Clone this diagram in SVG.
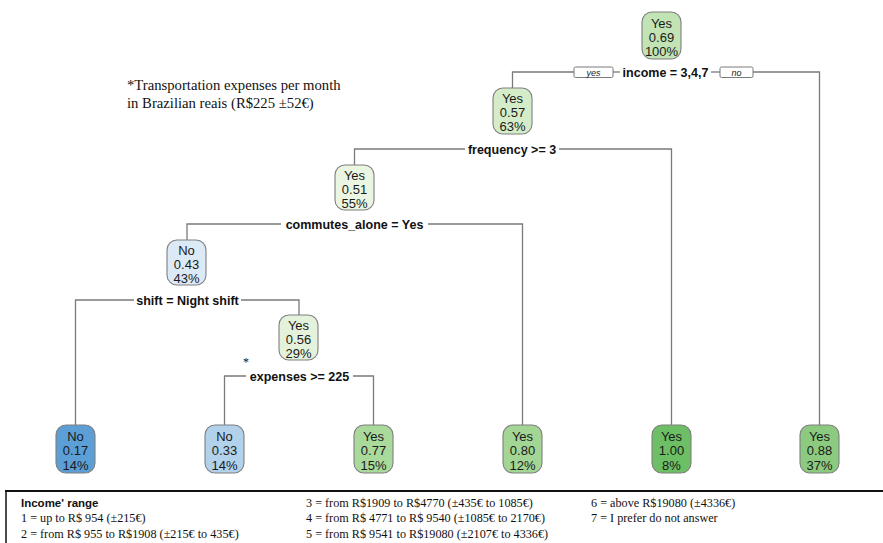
<svg xmlns="http://www.w3.org/2000/svg" width="883" height="543" viewBox="0 0 883 543">
<style>
.bg{fill:#ffffff}
.box{stroke:#7f7f7f;stroke-width:1.1}
.nt{font-family:"Liberation Sans",Arial,sans-serif;font-size:13px;fill:#1a1a1a;text-anchor:middle}
.sp{font-family:"Liberation Sans",Arial,sans-serif;font-size:12.5px;font-weight:bold;fill:#111;text-anchor:middle}
.ln{stroke:#7a7a7a;stroke-width:1.3;fill:none}
.lab{fill:#fff;stroke:#7a7a7a;stroke-width:1}
.labt{font-family:"Liberation Sans",Arial,sans-serif;font-size:9px;font-style:italic;fill:#222;text-anchor:middle}
.ser{font-family:"Liberation Serif","Times New Roman",serif;fill:#111}
.leg{font-family:"Liberation Serif","Times New Roman",serif;font-size:12.2px;fill:#111}
</style>
<rect class="bg" x="0" y="0" width="883" height="543"/>

<g id="connectors">
  <path class="ln" d="M512.5,88 V72 H574"/>
  <path class="ln" d="M613,72 H620"/>
  <path class="ln" d="M711,72 H720"/>
  <path class="ln" d="M753,72 H819.5 V425"/>
  <path class="ln" d="M354.5,165 V149 H465"/>
  <path class="ln" d="M559,149 H671.5 V425"/>
  <path class="ln" d="M187,240 V224 H281"/>
  <path class="ln" d="M428,224 H522.5 V425"/>
  <path class="ln" d="M75.5,425 V300 H134"/>
  <path class="ln" d="M241,300 H299 V315"/>
  <path class="ln" d="M224.5,425 V376 H246"/>
  <path class="ln" d="M353,376 H373.5 V425"/>
</g>

<g id="split-labels">
  <g id="lab-yes"><rect class="lab" x="574" y="67" width="39" height="10.5" rx="1.5"/><text class="labt" x="593.5" y="75.5">yes</text></g>
  <text class="sp" x="665.5" y="76.5">income = 3,4,7</text>
  <g id="lab-no"><rect class="lab" x="720" y="67" width="33" height="10.5" rx="1.5"/><text class="labt" x="736.5" y="75.5">no</text></g>
  <text class="sp" x="512" y="153.5">frequency &gt;= 3</text>
  <text class="sp" x="354.5" y="228.5">commutes_alone = Yes</text>
  <text class="sp" x="187.5" y="304.5">shift = Night shift</text>
  <text class="sp" x="299.5" y="380.5">expenses &gt;= 225</text>
  <text class="ser" x="243" y="366" font-size="12">*</text>
</g>

<g id="node-root">
  <rect class="box" x="642" y="12" width="39" height="47" rx="10" fill="#c2e3b4"/>
  <text class="nt" x="661.5" y="27.5">Yes</text><text class="nt" x="661.5" y="41.5">0.69</text><text class="nt" x="661.5" y="56">100%</text>
</g>
<g id="node-2">
  <rect class="box" x="493" y="88" width="39" height="46" rx="10" fill="#d5ecc9"/>
  <text class="nt" x="512.5" y="102.5">Yes</text><text class="nt" x="512.5" y="117">0.57</text><text class="nt" x="512.5" y="131">63%</text>
</g>
<g id="node-3">
  <rect class="box" x="335" y="165" width="39" height="45" rx="10" fill="#eaf5e2"/>
  <text class="nt" x="354.5" y="179.5">Yes</text><text class="nt" x="354.5" y="193.5">0.51</text><text class="nt" x="354.5" y="207.5">55%</text>
</g>
<g id="node-4">
  <rect class="box" x="167" y="240" width="39" height="45" rx="10" fill="#dce9f7"/>
  <text class="nt" x="186.5" y="254.5">No</text><text class="nt" x="186.5" y="268.5">0.43</text><text class="nt" x="186.5" y="282.5">43%</text>
</g>
<g id="node-5">
  <rect class="box" x="279" y="315" width="39" height="45" rx="10" fill="#e4f2dc"/>
  <text class="nt" x="298.5" y="329.5">Yes</text><text class="nt" x="298.5" y="343.5">0.56</text><text class="nt" x="298.5" y="357.5">29%</text>
</g>
<g id="leaf-1">
  <rect class="box" x="56" y="425" width="39" height="48" rx="10" fill="#5b9fd6"/>
  <text class="nt" x="75.5" y="440.5">No</text><text class="nt" x="75.5" y="455">0.17</text><text class="nt" x="75.5" y="469.5">14%</text>
</g>
<g id="leaf-2">
  <rect class="box" x="205" y="425" width="39" height="48" rx="10" fill="#b2d2ec"/>
  <text class="nt" x="224.5" y="440.5">No</text><text class="nt" x="224.5" y="455">0.33</text><text class="nt" x="224.5" y="469.5">14%</text>
</g>
<g id="leaf-3">
  <rect class="box" x="354" y="425" width="39" height="48" rx="10" fill="#a9d99b"/>
  <text class="nt" x="373.5" y="440.5">Yes</text><text class="nt" x="373.5" y="455">0.77</text><text class="nt" x="373.5" y="469.5">15%</text>
</g>
<g id="leaf-4">
  <rect class="box" x="503" y="425" width="39" height="48" rx="10" fill="#a3d595"/>
  <text class="nt" x="522.5" y="440.5">Yes</text><text class="nt" x="522.5" y="455">0.80</text><text class="nt" x="522.5" y="469.5">12%</text>
</g>
<g id="leaf-5">
  <rect class="box" x="652" y="425" width="39" height="48" rx="10" fill="#6dbf65"/>
  <text class="nt" x="671.5" y="440.5">Yes</text><text class="nt" x="671.5" y="455">1.00</text><text class="nt" x="671.5" y="469.5">8%</text>
</g>
<g id="leaf-6">
  <rect class="box" x="800" y="425" width="39" height="48" rx="10" fill="#8ccb7f"/>
  <text class="nt" x="819.5" y="440.5">Yes</text><text class="nt" x="819.5" y="455">0.88</text><text class="nt" x="819.5" y="469.5">37%</text>
</g>

<g id="note">
  <text class="ser" x="127" y="90" font-size="14.7">*Transportation expenses per month</text>
  <text class="ser" x="127" y="108" font-size="14.7">in Brazilian reais (R$225 ±52€)</text>
</g>

<g id="legend">
  <path d="M5,491 H883" stroke="#111" stroke-width="2" fill="none"/>
  <path d="M6,491 V543" stroke="#111" stroke-width="1.5" fill="none"/>
  <text x="21" y="507" font-family="'Liberation Sans',Arial,sans-serif" font-size="11.5" font-weight="bold" fill="#111">Income' range</text>
  <text class="leg" x="21" y="522">1 = up to R$ 954 (±215€)</text>
  <text class="leg" x="21" y="538">2 = from R$ 955 to R$1908 (±215€ to 435€)</text>
  <text class="leg" x="306" y="507">3 = from R$1909 to R$4770 (±435€ to 1085€)</text>
  <text class="leg" x="306" y="522">4 = from R$ 4771 to R$ 9540 (±1085€ to 2170€)</text>
  <text class="leg" x="306" y="538">5 = from R$ 9541 to R$19080 (±2107€ to 4336€)</text>
  <text class="leg" x="591" y="507">6 = above R$19080 (±4336€)</text>
  <text class="leg" x="591" y="522">7 = I prefer do not answer</text>
</g>
</svg>
